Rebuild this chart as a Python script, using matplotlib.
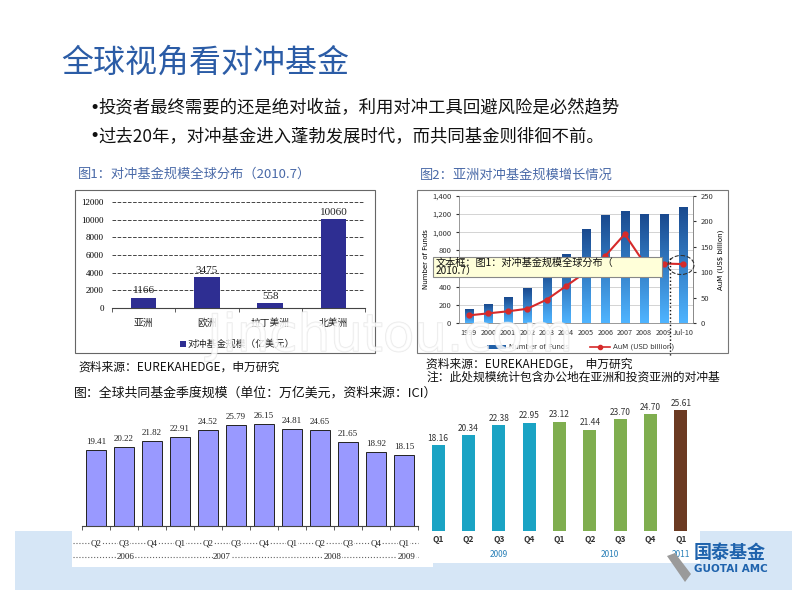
import numpy as np
import matplotlib.pyplot as plt
import matplotlib.patheffects as pe
from matplotlib.colors import LinearSegmentedColormap
from matplotlib.patches import Rectangle, Ellipse, Polygon

plt.rcParams['font.family'] = ['Noto Sans CJK SC', 'DejaVu Sans']

# 图1：对冲基金规模全球分布（亿美元）
regioes = ['亚洲', '欧洲', '拉丁美洲', '北美洲']
escala_regiao = [1166, 3475, 558, 10060]

# 图2：亚洲对冲基金规模增长
anos_asia = ['1999', '2000', '2001', '2002', '2003', '2004', '2005', '2006',
             '2007', '2008', '2009', 'Jul-10']
num_fundos = [147, 209, 282, 381, 590, 751, 1033, 1180, 1234, 1194, 1201, 1275]
aum_asia = [15, 19, 23, 28, 46, 73, 100, 132, 175, 118, 117, 116]

# 全球共同基金季度规模（万亿美元）2006Q2 - 2009Q1
trimestres_a = ['Q2', 'Q3', 'Q4', 'Q1', 'Q2', 'Q3', 'Q4', 'Q1', 'Q2', 'Q3', 'Q4', 'Q1']
fundo_mutuo_a = [19.41, 20.22, 21.82, 22.91, 24.52, 25.79, 26.15, 24.81, 24.65,
                 21.65, 18.92, 18.15]
anos_a = ['2006', '2007', '2008', '2009']

# 2009Q1 - 2011Q1
trimestres_b = ['Q1', 'Q2', 'Q3', 'Q4', 'Q1', 'Q2', 'Q3', 'Q4', 'Q1']
fundo_mutuo_b = [18.16, 20.34, 22.38, 22.95, 23.12, 21.44, 23.70, 24.70, 25.61]
ano_b = ['2009', '2009', '2009', '2009', '2010', '2010', '2010', '2010', '2011']
anos_b = ['2009', '2010', '2011']

cores_ano = {'2009': '#1aa3c4', '2010': '#7fae4f', '2011': '#6b3a22'}

fig = plt.figure(figsize=(8, 6), dpi=100)


def eixo(x0, y0, x1, y1):
    # converte caixa em pixels (origem no topo) para coordenadas da figura
    return fig.add_axes([x0 / 800, 1 - y1 / 600, (x1 - x0) / 800, (y1 - y0) / 600])


# fundo do slide
bg = fig.add_axes([0, 0, 1, 1])
bg.set_xlim(0, 800)
bg.set_ylim(600, 0)
bg.axis('off')

bg.text(61, 63, '全球视角看对冲基金', fontsize=23, color='#2b5ca6', va='center')
for yb, frase in [(108, '投资者最终需要的还是绝对收益，利用对冲工具回避风险是必然趋势'),
                  (136, '过去20年，对冲基金进入蓬勃发展时代，而共同基金则徘徊不前。')]:
    bg.text(89, yb, '•', fontsize=12.5, va='center', color='#111111', family='DejaVu Sans')
    bg.text(98, yb, frase, fontsize=12.5, va='center', color='#111111')

# faixa azul inferior
bg.add_patch(Rectangle((15, 531), 777, 59, color='#d6e6f6', lw=0))
bg.add_patch(Rectangle((72, 531), 361, 36, color='white', lw=0))
bg.add_patch(Rectangle((433, 531), 267, 32, color='white', lw=0))

# ---------------- 图1 ----------------
bg.text(78, 174, '图1：对冲基金规模全球分布（2010.7）', fontsize=9.5, color='#4a6aa8', va='center')
bg.add_patch(Rectangle((75, 190), 300, 163, fill=False, ec='#666666', lw=0.8))
bg.add_patch(Rectangle((180, 341), 6, 6, color='#2e2e92', lw=0))
bg.text(188, 344, '对冲基金规模（亿美元）', fontsize=7, va='center', color='#222222')
bg.text(78, 367, '资料来源：EUREKAHEDGE，申万研究', fontsize=8.5, va='center', color='#111111')

ax1 = eixo(112, 202, 365, 308)
ax1.set_facecolor('none')
x1 = np.arange(len(regioes))
ax1.bar(x1, escala_regiao, width=0.4, color='#2e2e92', zorder=3)
for i, v in enumerate(escala_regiao):
    ax1.text(i, v + 250, str(v), ha='center', va='bottom', fontsize=8,
             family='Liberation Serif', color='#222222')
ax1.set_xlim(-0.5, 3.5)
ax1.set_ylim(0, 12000)
ax1.set_yticks(np.arange(0, 12001, 2000))
ax1.yaxis.grid(True, ls='--', color='#444444', lw=0.7)
ax1.set_axisbelow(True)
ax1.set_xticks(x1)
ax1.set_xticklabels(regioes, fontsize=7, color='#222222')
ax1.set_xticks(np.arange(-0.5, 4, 1), minor=True)
ax1.tick_params(axis='x', which='major', length=0, pad=7)
ax1.tick_params(axis='x', which='minor', length=3, color='#444444')
ax1.tick_params(axis='y', length=0, labelsize=6.5, pad=6)
for lbl in ax1.get_yticklabels():
    lbl.set_family('Liberation Serif')
for s in ['top', 'right', 'left']:
    ax1.spines[s].set_visible(False)
ax1.spines['bottom'].set_color('#444444')

# ---------------- 图2 ----------------
bg.text(420, 175, '图2：亚洲对冲基金规模增长情况', fontsize=9.5, color='#4a6aa8', va='center')
bg.add_patch(Rectangle((417, 190), 311, 163, fill=False, ec='#777777', lw=0.8))
bg.add_patch(Rectangle((487, 345), 19, 4, color='#1f5fa8', lw=0))
bg.text(509, 347, 'Number of Funds', fontsize=5, va='center', color='#333333',
        family='DejaVu Sans')
bg.plot([590, 610], [347, 347], color='#d62a2a', lw=1.2)
bg.plot([600], [347], 'o', color='#d62a2a', ms=3)
bg.text(613, 347, 'AuM (USD billion)', fontsize=5, va='center', color='#333333',
        family='DejaVu Sans')
bg.text(426, 364, '资料来源：EUREKAHEDGE，  申万研究', fontsize=8.5, va='center', color='#111111')
bg.text(426, 377, '注：此处规模统计包含办公地在亚洲和投资亚洲的对冲基', fontsize=8.5,
        va='center', color='#111111')

ax2 = eixo(459, 196, 693, 323)
ax2.set_facecolor('none')
cmap_azul = LinearSegmentedColormap.from_list('azul', ['#4fb4ff', '#1a4a8f'])
grad = np.linspace(0, 1, 64).reshape(-1, 1)
w2 = 0.42
for i, v in enumerate(num_fundos):
    ax2.imshow(grad, extent=[i - w2 / 2, i + w2 / 2, 0, v], origin='lower',
               cmap=cmap_azul, aspect='auto', zorder=3)
ax2.set_xlim(-0.5, len(anos_asia) - 0.5)
ax2.set_ylim(0, 1400)
ax2.set_yticks(np.arange(0, 1401, 200))
ax2.set_yticklabels([f'{t:,}' for t in range(0, 1401, 200)])
ax2.yaxis.grid(True, color='#cccccc', lw=0.6)
ax2.set_axisbelow(True)
ax2.set_xticks(np.arange(len(anos_asia)))
ax2.set_xticklabels(anos_asia)
ax2.tick_params(axis='both', labelsize=5.5, colors='#333333', length=2)
ax2.tick_params(axis='x', length=0, pad=4, labelsize=5.2)
ax2.set_ylabel('Number of Funds', fontsize=5, labelpad=2, family='DejaVu Sans')
ax2.spines['top'].set_visible(False)
for s in ['left', 'right', 'bottom']:
    ax2.spines[s].set_color('#888888')
    ax2.spines[s].set_linewidth(0.6)

ax2r = ax2.twinx()
ax2r.plot(np.arange(len(anos_asia)), aum_asia, color='#d62a2a', lw=1.5,
          marker='o', ms=3.5, zorder=5)
ax2r.set_ylim(0, 250)
ax2r.set_yticks(np.arange(0, 251, 50))
ax2r.tick_params(axis='y', labelsize=5.5, colors='#333333', length=2)
ax2r.set_ylabel(r'AuM (US\$ billion)', fontsize=5, rotation=90, labelpad=3,
                family='DejaVu Sans')
for s in ['top', 'left', 'bottom']:
    ax2r.spines[s].set_visible(False)
ax2r.spines['right'].set_color('#888888')
ax2r.spines['right'].set_linewidth(0.6)

# ---------------- 共同基金 ----------------
bg.text(74, 393, '图：全球共同基金季度规模（单位：万亿美元，资料来源：ICI）', fontsize=9.3,
        va='center', color='#111111')

ax3 = eixo(82, 400, 418, 526)
ax3.set_facecolor('none')
x3 = np.arange(len(fundo_mutuo_a))
ax3.bar(x3, fundo_mutuo_a, width=0.71, color='#9999ff', edgecolor='#222222', lw=0.7)
for i, v in enumerate(fundo_mutuo_a):
    ax3.text(i, v + 1.0, f'{v:.2f}', ha='center', va='bottom', fontsize=6.5,
             family='Liberation Serif', color='#222222')
ax3.set_xlim(-0.5, len(x3) - 0.5)
ax3.set_ylim(0, 32.3)
ax3.set_yticks([])
ax3.set_xticks([])
ax3.set_xticks(np.arange(-0.5, len(x3), 1), minor=True)
ax3.tick_params(axis='x', which='minor', length=3, color='#444444')
for s in ['top', 'right', 'left']:
    ax3.spines[s].set_visible(False)
ax3.spines['bottom'].set_color('#444444')

bg.plot([73, 418], [543, 543], ls=':', color='#666666', lw=0.8)
bg.plot([73, 418], [557, 557], ls=':', color='#666666', lw=0.8)
trans3 = ax3.get_xaxis_transform()
for i, q in enumerate(trimestres_a):
    ax3.text(i, -0.135, q, transform=trans3, ha='center', va='center', fontsize=6.5,
             family='Liberation Serif', color='#222222',
             bbox=dict(fc='white', ec='none', pad=0.3))
for xpos, ano in zip([1.05, 4.5, 8.46, 11.1], anos_a):
    ax3.text(xpos, -0.246, ano, transform=trans3, ha='center', va='center', fontsize=6.5,
             family='Liberation Serif', color='#222222',
             bbox=dict(fc='white', ec='none', pad=0.3))

ax4 = eixo(423, 395, 696, 531)
ax4.set_facecolor('none')
x4 = np.arange(len(fundo_mutuo_b))
ax4.bar(x4, fundo_mutuo_b, width=0.42, color=[cores_ano[a] for a in ano_b])
for i, v in enumerate(fundo_mutuo_b):
    ax4.text(i, v + 0.5, f'{v:.2f}', ha='center', va='bottom', fontsize=6,
             color='#333333')
ax4.set_xlim(-0.5, len(x4) - 0.5)
ax4.set_ylim(0, 28.8)
ax4.set_xticks([])
ax4.set_yticks([])
for s in ax4.spines.values():
    s.set_visible(False)
trans4 = ax4.get_xaxis_transform()
for i, q in enumerate(trimestres_b):
    ax4.text(i, -0.066, q, transform=trans4, ha='center', va='center', fontsize=6,
             color='#333333', weight='bold')
for xpos, ano in zip([2.0, 5.65, 8.0], anos_b):
    ax4.text(xpos, -0.17, ano, transform=trans4, ha='center', va='center', fontsize=6,
             color='#2a80b8')

# ---------------- sobreposições ----------------
fg = fig.add_axes([0, 0, 1, 1])
fg.set_xlim(0, 800)
fg.set_ylim(600, 0)
fg.axis('off')
fg.set_zorder(10)

fg.add_patch(Rectangle((433, 257), 229, 20, fc='#ffffd9', ec='#888888', lw=0.8))
fg.text(436, 262.5, '文本框：图1：对冲基金规模全球分布（', fontsize=7.3, va='center', color='#111111')
fg.text(436, 271.5, '2010.7）', fontsize=7.3, va='center', color='#111111')
fg.plot([670, 670], [258, 355], ls=':', color='#111111', lw=1)
fg.add_patch(Ellipse((681, 265), 26, 19, fill=False, ls='--', ec='#333333', lw=0.8))

fg.text(390, 337, 'Jinchutou.com', fontsize=37, color='white', alpha=0.6,
        ha='center', va='center', family='DejaVu Sans',
        path_effects=[pe.withStroke(linewidth=1.0, foreground='#dddddd')])

fg.add_patch(Polygon([(667, 556), (675, 553), (691, 574), (685, 582)],
                     closed=True, color='#9a9a9a', lw=0))
fg.text(730, 552, '国泰基金', fontsize=13, weight='bold', color='#1f63ad',
        ha='center', va='center')
fg.text(731, 569, 'GUOTAI AMC', fontsize=7.5, weight='bold', color='#1f63ad',
        ha='center', va='center', family='DejaVu Sans')

fig.savefig('out.png', dpi=100)
